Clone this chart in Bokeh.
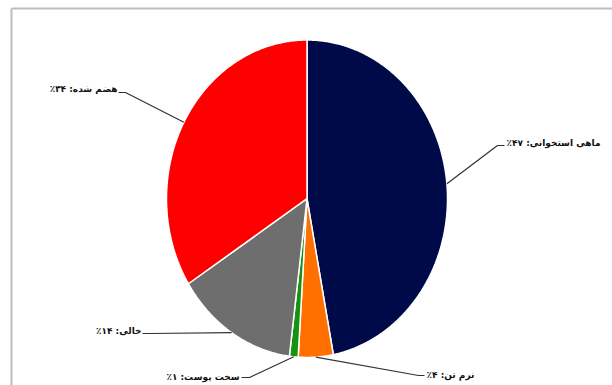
import numpy as np
from bokeh.plotting import figure
from bokeh.models import Range1d
from bokeh.core.properties import value
from bokeh.embed import file_html
from bokeh.resources import INLINE

# Stomach contents composition (percent)
categories = ["ماهی استخوانی", "نرم تن", "سخت پوست", "خالی", "هضم شده"]
percents = [47, 4, 1, 14, 34]
colors = ["#000a48", "#ff7000", "#139413", "#6e6e6e", "#ff0000"]

W, H = 612, 385
# pie centre and radii in screen pixels (the pie is drawn slightly stretched)
CX, CY, RX, RY = 306.5, 198.2, 140.5, 158.7


def dx(px):
    return (px - CX) / RX


def dy(py):
    return (CY - py) / RY


p = figure(width=W, height=H, output_backend="svg", toolbar_location=None,
           x_range=Range1d(dx(0), dx(W)), y_range=Range1d(dy(H), dy(0)),
           min_border=0, min_border_left=0, min_border_right=0,
           min_border_top=0, min_border_bottom=0)
p.axis.visible = False
p.grid.visible = False
p.outline_line_color = None
p.background_fill_color = "white"
p.border_fill_color = "white"

# chart-area frame (top and left edges)
p.segment(x0=[dx(11), dx(11)], y0=[dy(8), dy(8)], x1=[dx(W + 2), dx(11)], y1=[dy(8), dy(H + 2)],
          line_color="#bdbdbd", line_width=2)

# slices, clockwise from 12 o'clock, on a unit circle
fr = np.array(percents, dtype=float) / sum(percents)
ends = np.cumsum(fr) * 2 * np.pi
starts = ends - fr * 2 * np.pi
xs, ys = [], []
for a0, a1 in zip(starts, ends):
    t = np.linspace(a0, a1, max(8, int((a1 - a0) * 120)))
    xs.append(np.concatenate([[0.0], np.sin(t), [0.0]]))
    ys.append(np.concatenate([[0.0], np.cos(t), [0.0]]))
p.patches(xs=xs, ys=ys, fill_color=colors, line_color="white", line_width=1.5)

# label layout: (elbow px, end px, text anchor px, alignment)
layout = [
    ((497, 145), (504, 145), (506, 142), "left"),
    ((418, 375), (424, 375), (426, 374), "left"),
    ((249, 377), (241, 377), (239, 376), "right"),
    ((149, 333), (142, 333), (141, 330), "right"),
    ((125, 92), (118, 92), (117, 88), "right"),
]

fa = str.maketrans("0123456789", "۰۱۲۳۴۵۶۷۸۹")
mids = (starts + ends) / 2
for name, pct, mid, (el, en, tx, al) in zip(categories, percents, mids, layout):
    lx = [np.sin(mid), dx(el[0]), dx(en[0])]
    ly = [np.cos(mid), dy(el[1]), dy(en[1])]
    p.line(lx, ly, line_color="#333333", line_width=1.2)
    label = "\u200f" + name + ": " + str(pct).translate(fa) + "٪" + "\u200f"
    p.text(x=[dx(tx[0])], y=[dy(tx[1])], text=[label],
           text_font=value("DejaVu Sans"), text_font_style="bold",
           text_font_size="9px", text_color="#111111",
           text_align=al, text_baseline="middle")

open("out.html", "w").write(file_html(p, INLINE))
